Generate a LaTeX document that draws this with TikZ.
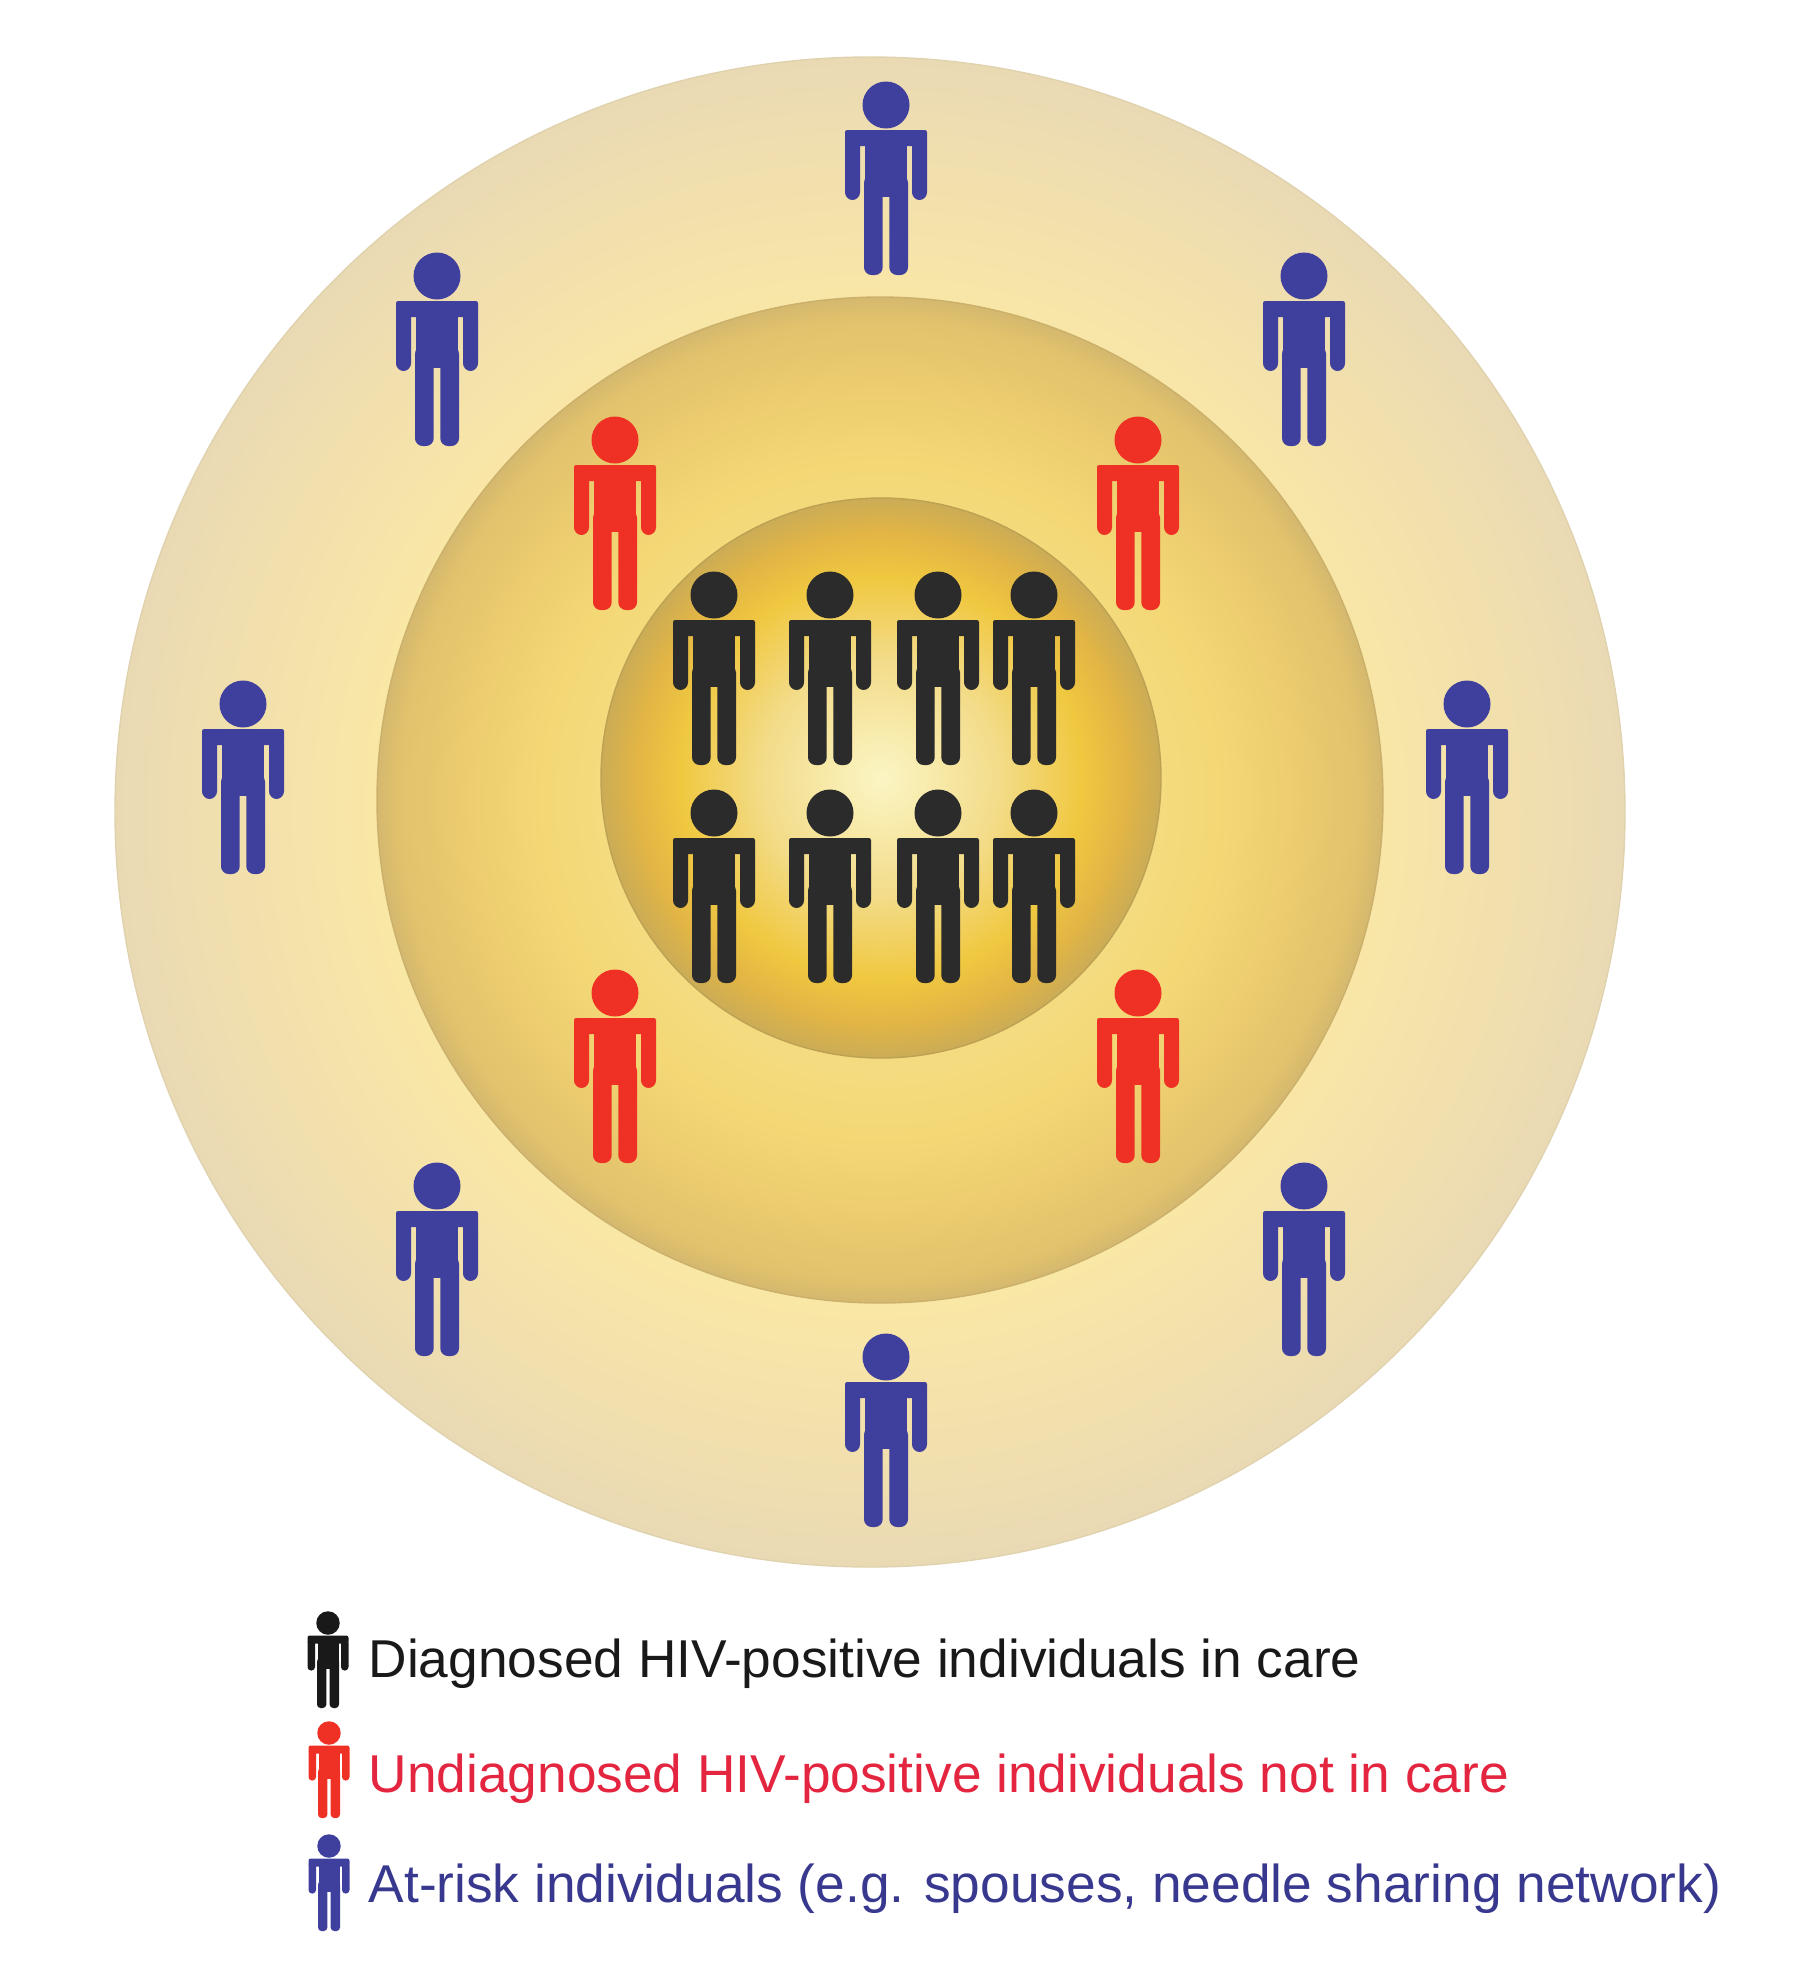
\documentclass[tikz,border=0pt]{standalone}
\usepackage{fontspec}
\setmainfont{Liberation Sans}

\definecolor{riskblue}{HTML}{3F3F9E}
\definecolor{carered}{HTML}{EE3124}
\definecolor{careblack}{HTML}{2B2B2B}
\definecolor{textred}{HTML}{E4253F}
\definecolor{textblue}{HTML}{38388F}
\definecolor{outeredge}{HTML}{E0D2AE}
\definecolor{middleedge}{HTML}{CBB06C}
\definecolor{inneredge}{HTML}{BDA254}
% warna gradasi
\definecolor{outerA}{HTML}{F9E7A6}
\definecolor{outerB}{HTML}{F8E5A8}
\definecolor{outerC}{HTML}{F2E0AC}
\definecolor{outerD}{HTML}{EADAB4}
\definecolor{middleA}{HTML}{F5DB80}
\definecolor{middleB}{HTML}{F4D876}
\definecolor{middleC}{HTML}{EBCB6E}
\definecolor{middleD}{HTML}{E2C26C}
\definecolor{middleE}{HTML}{D4B86E}
\definecolor{innerA}{HTML}{FBF5C4}
\definecolor{innerB}{HTML}{F3DC8A}
\definecolor{innerC}{HTML}{F0C840}
\definecolor{innerD}{HTML}{E2B545}
\definecolor{innerE}{HTML}{CBAC56}

\pgfdeclareradialshading{outerring}{\pgfpoint{0bp}{0bp}}{%
  color(0bp)=(outerA);
  color(16.5bp)=(outerA);
  color(17.5bp)=(outerB);
  color(20.8bp)=(outerC);
  color(25bp)=(outerD);
  color(50bp)=(outerD)}
\pgfdeclareradialshading{middlering}{\pgfpoint{0bp}{0bp}}{%
  color(0bp)=(middleA);
  color(13.4bp)=(middleA);
  color(16.7bp)=(middleB);
  color(21bp)=(middleC);
  color(23.9bp)=(middleD);
  color(25bp)=(middleE);
  color(50bp)=(middleE)}
\pgfdeclareradialshading{innerball}{\pgfpoint{0bp}{0bp}}{%
  color(0bp)=(innerA);
  color(10.5bp)=(innerB);
  color(17.9bp)=(innerC);
  color(21.9bp)=(innerD);
  color(25bp)=(innerE);
  color(50bp)=(innerE)}

\tikzset{
  pics/person/.style n args={2}{code={
    \fill[#1] (0,0) circle (23.5);
    \fill[#1,rounded corners=0.6pt] (-41,25) rectangle (41,41);
    \fill[#1] (-21,30) rectangle (21,92);
    \foreach \s in {-1,1}{
      \fill[#1,rounded corners=#2] (\s*41,32) rectangle (\s*26,95);
      \fill[#1,rounded corners=#2] (\s*22,70) rectangle (\s*3.3,170);
    }
  }},
  legendtext/.style={anchor=base west,inner sep=0pt,font=\fontsize{15.15pt}{18pt}\selectfont}
}

\begin{document}
\begin{tikzpicture}[x=0.01cm,y=-0.01cm]
    \useasboundingbox (0,0) rectangle (1803,1968);
    % lingkaran
    \shade[shading=outerring,draw=outeredge] (870,812) circle (755);
    \shade[shading=middlering,draw=middleedge] (880,800) circle (503);
    \shade[shading=innerball,draw=inneredge] (881,778) circle (280);

    % orang biru
    \foreach \x/\y in {886/105,437/276,1304/276,243/704,1467/704,437/1186,1304/1186,886/1357}
        \pic at (\x,\y) {person={riskblue}{2.2pt}};
    % orang merah
    \foreach \x/\y in {615/440,1138/440,615/993,1138/993}
        \pic at (\x,\y) {person={carered}{2.2pt}};
    % orang hitam
    \foreach \y in {595,813}
        \foreach \x in {714,830,938,1034}
            \pic at (\x,\y) {person={careblack}{2.2pt}};

    % keterangan
    \pic[scale=0.5] at (328,1623) {person={black!90}{1pt}};
    \pic[scale=0.5] at (329,1733) {person={carered}{1pt}};
    \pic[scale=0.5] at (329,1846) {person={riskblue}{1pt}};
    \node[legendtext,text=black!90] (incare) at (368,1677) {Diagnosed HIV-positive individuals in care};
    \node[legendtext,text=textred] (notcare) at (368,1792) {Undiagnosed HIV-positive individuals not in care};
    \node[legendtext,text=textblue] (atrisk) at (368,1902) {At-risk individuals (e.g. spouses, needle sharing network)};
\end{tikzpicture}
\end{document}
